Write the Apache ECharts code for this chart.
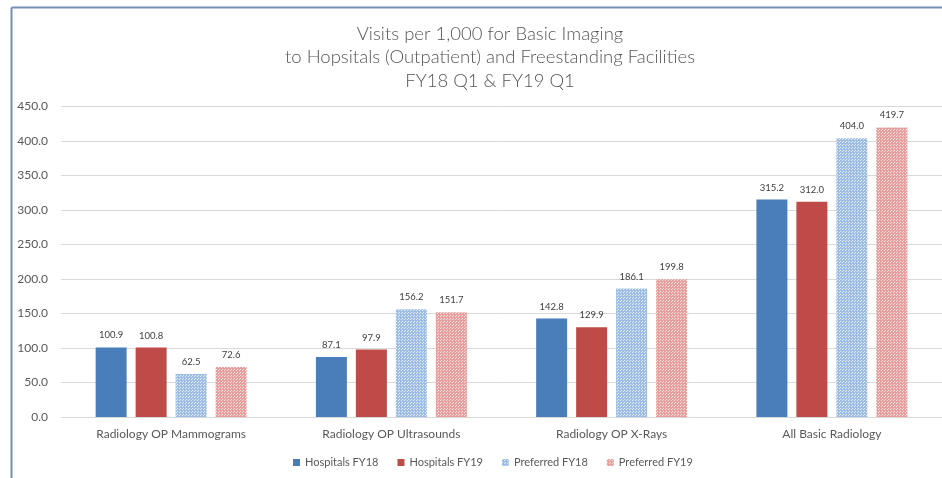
<!DOCTYPE html>
<html>
<head>
<meta charset="utf-8">
<script src="https://cdn.jsdelivr.net/npm/echarts@6/dist/echarts.min.js"></script>
<style>
  html, body { margin: 0; padding: 0; background: #fff; }
  #chart { width: 942px; height: 478px; }
</style>
</head>
<body>
<div id="chart"></div>
<script>
const categories = [
  "Radiology OP Mammograms",
  "Radiology OP Ultrasounds",
  "Radiology OP X-Rays",
  "All Basic Radiology"
];
const hospitalsFY18 = [100.9, 87.1, 142.8, 315.2];
const hospitalsFY19 = [100.8, 97.9, 129.9, 312.0];
const preferredFY18 = [62.5, 156.2, 186.1, 404.0];
const preferredFY19 = [72.6, 151.7, 199.8, 419.7];
const yTicks = [0, 50, 100, 150, 200, 250, 300, 350, 400, 450];

// small dotted-grid fill like the excel pattern
function makePattern(base, dot) {
  const c = document.createElement("canvas");
  c.width = 3;
  c.height = 3;
  const ctx = c.getContext("2d");
  ctx.fillStyle = base;
  ctx.fillRect(0, 0, 3, 3);
  ctx.fillStyle = dot;
  ctx.fillRect(0, 0, 1, 1);
  ctx.fillRect(2, 1, 1, 1);
  return { image: c, repeat: "repeat" };
}

const font = "Lato, 'Open Sans', sans-serif";
const labelStyle = {
  show: true,
  position: "top",
  distance: 7,
  color: "#404040",
  fontSize: 9.5,
  fontFamily: font,
  formatter: p => p.value.toFixed(1)
};

const chart = echarts.init(document.getElementById("chart"));
chart.setOption({
  animation: false,
  textStyle: { fontFamily: font },
  title: {
    text: "Visits per 1,000 for Basic Imaging\nto Hopsitals (Outpatient) and Freestanding Facilities\nFY18 Q1 & FY19 Q1",
    left: 485,
    textAlign: "center",
    top: 17,
    textStyle: {
      color: "#555555",
      fontSize: 18.5,
      fontWeight: 300,
      fontFamily: font,
      lineHeight: 23.5
    }
  },
  legend: {
    bottom: 5,
    left: 288,
    itemWidth: 7,
    itemHeight: 7,
    itemGap: 19,
    icon: "rect",
    textStyle: { color: "#595959", fontSize: 11, fontFamily: font },
    data: ["Hospitals FY18", "Hospitals FY19", "Preferred FY18", "Preferred FY19"]
  },
  grid: { left: 61, right: -3, top: 106.5, bottom: 61 },
  xAxis: {
    type: "category",
    data: categories,
    axisTick: { show: false },
    axisLine: { lineStyle: { color: "#d9d9d9" } },
    axisLabel: { color: "#595959", fontSize: 12, margin: 11, fontFamily: font }
  },
  yAxis: {
    type: "value",
    min: yTicks[0],
    max: yTicks[yTicks.length - 1],
    interval: 50,
    axisLine: { show: false },
    axisTick: { show: false },
    splitLine: { lineStyle: { color: "#d9d9d9" } },
    axisLabel: {
      color: "#595959",
      fontSize: 12,
      margin: 13,
      fontFamily: font,
      formatter: v => v.toFixed(1)
    }
  },
  series: [
    { name: "Hospitals FY18", type: "bar", data: hospitalsFY18, barWidth: 31, barGap: "29%",
      itemStyle: { color: "#4a7ebb" }, label: labelStyle },
    { name: "Hospitals FY19", type: "bar", data: hospitalsFY19, barWidth: 31, barGap: "29%",
      itemStyle: { color: "#be4b48" }, label: labelStyle },
    { name: "Preferred FY18", type: "bar", data: preferredFY18, barWidth: 31, barGap: "29%",
      itemStyle: { color: makePattern("#9ebde6", "#e6eef9") }, label: labelStyle },
    { name: "Preferred FY19", type: "bar", data: preferredFY19, barWidth: 31, barGap: "29%",
      itemStyle: { color: makePattern("#e79e9c", "#f9e4e3") }, label: labelStyle }
  ],
  graphic: [
    { type: "line", shape: { x1: 11.5, y1: 7.5, x2: 11.5, y2: 478 },
      style: { stroke: "#7590b8", lineWidth: 2 } },
    { type: "line", shape: { x1: 11.5, y1: 7.5, x2: 942, y2: 7.5 },
      style: { stroke: "#7590b8", lineWidth: 2 } }
  ]
});
</script>
</body>
</html>
